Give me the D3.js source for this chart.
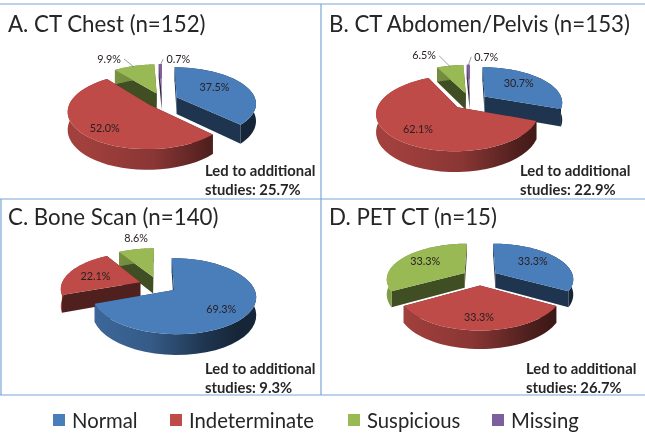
<!DOCTYPE html>
<html><head><meta charset="utf-8">
<script src="https://cdn.jsdelivr.net/npm/d3@7/dist/d3.min.js"></script>
<style>html,body{margin:0;padding:0;background:#fff}svg{display:block;filter:blur(0.35px)}text{font-family:Lato,"Open Sans",sans-serif}</style>
</head><body><div id="c"></div>
<script>
// ---- data ----
const categories = ["Normal","Indeterminate","Suspicious","Missing"];
const panelTitles = ["A. CT Chest (n=152)","B. CT Abdomen/Pelvis (n=153)","C. Bone Scan (n=140)","D. PET CT (n=15)"];
const chestValues = [37.5,52.0,9.9,0.7];
const abdomenValues = [30.7,62.1,6.5,0.7];
const boneValues = [69.3,22.1,8.6,0];
const petValues = [33.3,33.3,33.3,0];
const additionalStudies = ["25.7%","22.9%","9.3%","26.7%"];
// ---- styling / layout ----
const colors = ["#4a7ebb","#be4b48","#98b954","#7d5fa0"];
const width = 645, height = 433;
const layouts = [
 {v:chestValues,  cx:162,cy:100,r:79,depth:17,explode:16,tx:8,  ty:32, nx:205,ny:176,
  nudge:[[0,-3],[-9,9],[0,0],[0,0]], outside:[false,false,true,true], base:[0,0,[-25,-7],[18,-5]]},
 {v:abdomenValues,cx:470,cy:101,r:78,depth:17,explode:18,tx:329,ty:32, nx:520,ny:176,
  nudge:[[2,-3],[-7,6],[0,0],[0,0]], outside:[false,false,true,true], base:[0,0,[-26,-10],[18,-8]]},
 {v:boneValues,   cx:158,cy:285,r:79,depth:17,explode:19,tx:8,  ty:225,nx:205,ny:374,
  nudge:[[8,7],[-6,0],[-7,-23],[0,0]], outside:[false,false,false,false], base:[0,0,[-20,-9],0]},
 {v:petValues,    cx:480,cy:277,r:78,depth:15,explode:18,tx:329,ty:225,nx:526,ny:374,
  nudge:[[3,-3],[-1,9],[-5,-3],[0,0]], outside:[false,false,false,false], base:0}
];
const labelFrac = 0.55, tilt = 0.45, persp = 0.002;

const svg = d3.select("#c").append("svg").attr("width",width).attr("height",height);
svg.append("rect").attr("width",width).attr("height",height).attr("fill","#fff");
const defs = svg.append("defs");

// frame rules
const rule = "#7aa6d8";
[[0,4,645,4],[0,199,645,199],[0,395,645,395],[321,4,321,395],[1,199,1,395]].forEach(l=>
  svg.append("line").attr("x1",l[0]).attr("y1",l[1]).attr("x2",l[2]).attr("y2",l[3]).attr("stroke",rule).attr("stroke-width",1.2));

const pie = d3.pie().sort(null).value(d=>d).startAngle(0).endAngle(2*Math.PI);
const line = d3.line();

layouts.forEach((p,pi)=>{
  const arcs = pie(p.v);
  const project = (px,py,z=0)=>{
    const s = 1/(1-py*persp);
    return [p.cx+px*s, p.cy+py*tilt*s+z*s];
  };
  const polar = (a,rr,ex)=>[Math.sin(a)*rr+ex[0], -Math.cos(a)*rr+ex[1]];
  colors.forEach((c,ci)=>{
    const g = defs.append("linearGradient").attr("id",`w${pi}_${ci}`).attr("gradientUnits","userSpaceOnUse")
      .attr("x1",p.cx-p.r).attr("x2",p.cx+p.r).attr("y1",0).attr("y2",0);
    [[0,.85],[.45,.72],[.8,.42],[1,.3]].forEach(s=>{
      const k=d3.rgb(c);
      g.append("stop").attr("offset",s[0]).attr("stop-color",d3.rgb(k.r*s[1],k.g*s[1],k.b*s[1]).formatHex());
    });
  });
  const items = arcs.map((a,i)=>({a,i,mid:(a.startAngle+a.endAngle)/2})).filter(d=>d.a.value>0);
  items.sort((x,y)=>(-Math.cos(x.mid))-(-Math.cos(y.mid)));
  const G = svg.append("g");
  items.forEach(d=>{
    const c = d3.rgb(colors[d.i]);
    const dark = d3.rgb(c.r*.42,c.g*.42,c.b*.42).formatHex();
    const ex = [Math.sin(d.mid)*p.explode, -Math.cos(d.mid)*p.explode];
    const as = d3.range(0,41).map(t=>d.a.startAngle+(d.a.endAngle-d.a.startAngle)*t/40);
    const rim = as.map(a=>polar(a,p.r,ex));
    const top = rim.map(q=>project(q[0],q[1],0));
    const bot = rim.map(q=>project(q[0],q[1],p.depth));
    const aT = project(ex[0],ex[1],0), aB = project(ex[0],ex[1],p.depth);
    [[top[0],bot[0]],[top[40],bot[40]]].forEach(e=>{
      G.append("path").attr("d",line([aT,e[0],e[1],aB])+"Z").attr("fill",dark);
    });
    G.append("path").attr("d",line(top.concat(bot.slice().reverse()))+"Z").attr("fill",`url(#w${pi}_${d.i})`);
    G.append("path").attr("d",line([aT].concat(top))+"Z").attr("fill",colors[d.i]);
    const out = p.outside[d.i];
    const q = polar(d.mid,p.r*labelFrac,ex);
    const lp = project(q[0],q[1],0);
    let lx, ly;
    const txt = d3.format(".1f")(d.a.value)+"%";
    if(out){
      const e = polar(d.mid,p.r,ex), ep = project(e[0],e[1],0);
      lx = ep[0]+p.base[d.i][0]; ly = ep[1]+p.base[d.i][1];
      const sgn = p.base[d.i][0]<0?-1:1;
      G.append("path").attr("d",line([[ep[0],ep[1]+1],[lx-sgn*15,ly]]))
        .attr("fill","none").attr("stroke","#777").attr("stroke-width",.7);
    } else {
      lx = lp[0]+p.nudge[d.i][0]; ly = lp[1]+p.nudge[d.i][1];
    }
    d.lbl = {x:lx,y:ly,txt};
  });
  const lab = svg.append("g");
  items.forEach(d=>{
    lab.append("text").attr("x",d.lbl.x).attr("y",d.lbl.y).attr("dy","0.35em").attr("text-anchor","middle")
      .attr("font-size",10.8).attr("fill","#2a2020").text(d.lbl.txt);
  });
  svg.append("text").attr("x",p.tx).attr("y",p.ty).attr("font-size",22.3).attr("fill","#262626").text(panelTitles[pi]);
  svg.append("text").attr("x",p.nx).attr("y",p.ny).attr("font-size",14.8).attr("font-weight",700).attr("fill","#262626").text("Led to additional");
  svg.append("text").attr("x",p.nx).attr("y",p.ny+19).attr("font-size",14.8).attr("font-weight",700).attr("fill","#262626").text("studies: "+additionalStudies[pi]);
});

// legend
const legendX = d3.scaleOrdinal().domain(categories).range([53,170,348,492]);
const lg = svg.append("g");
categories.forEach((c,i)=>{
  lg.append("rect").attr("x",legendX(c)).attr("y",414).attr("width",12).attr("height",12).attr("fill",colors[i]);
  lg.append("text").attr("x",legendX(c)+19).attr("y",428).attr("font-size",20.3).attr("fill","#262626").text(c);
});
</script></body></html>
